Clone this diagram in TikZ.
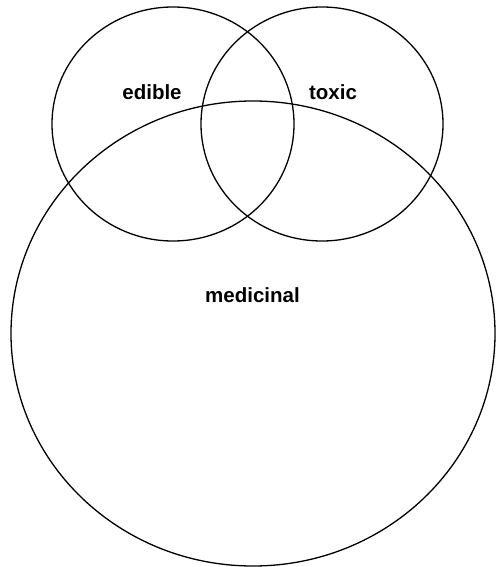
\documentclass[tikz,border=0pt]{standalone}
\usepackage{fontspec}
\setmainfont{Liberation Sans}
\usetikzlibrary{positioning}

\begin{document}
\begin{tikzpicture}[x=1pt,y=-1pt,
  set/.style={draw=black,line width=1.3pt},
  setlabel/.style={anchor=base,font=\fontsize{20.5}{24}\selectfont\bfseries}]
\useasboundingbox (0,0) rectangle (500,567);
% the three sets
\draw[set] (173,124) ellipse [x radius=121, y radius=117];
\draw[set] (322,124) ellipse [x radius=121, y radius=117];
\draw[set] (253,333.5) ellipse [x radius=242, y radius=232.5];
% labels
\node[setlabel] (edible) at (152,100) {edible};
\node[setlabel] (toxic) at (333,100) {toxic};
\node[setlabel] (medicinal) at (252.5,302) {medicinal};
\end{tikzpicture}
\end{document}
